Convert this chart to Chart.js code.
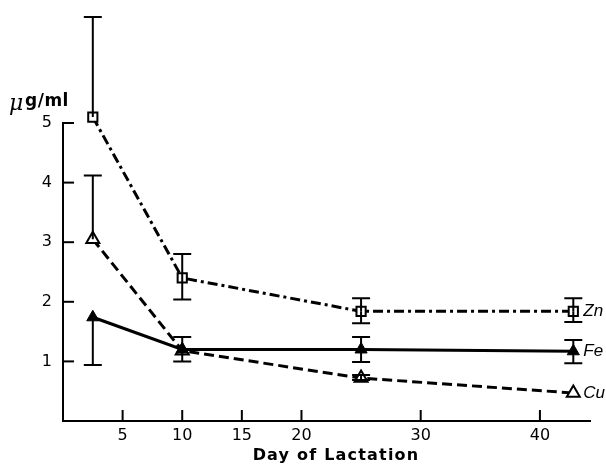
<!DOCTYPE html>
<html>
<head>
<meta charset="utf-8">
<script src="https://cdn.jsdelivr.net/npm/chart.js@4/dist/chart.umd.min.js"></script>
<style>
    html, body { margin: 0; padding: 0; background: #fff; }
    #wrap { width: 606px; height: 465px; }
</style>
</head>
<body>
<div id="wrap"><canvas id="chart" width="606" height="465"></canvas></div>
<script>
// Day of lactation for each sample
const days = [2.5, 10, 25, 42.8];

// Mean concentrations, µg/ml
const znValues = [5.1, 2.4, 1.84, 1.84];
const feValues = [1.74, 1.2, 1.2, 1.17];
const cuValues = [3.05, 1.18, 0.72, 0.47];

// Error bar extents above / below the mean
const znErrUp = [1.68, 0.4, 0.22, 0.22];
const znErrDown = [0, 0.36, 0.2, 0.18];
const feErrUp = [0, 0.21, 0.21, 0.19];
const feErrDown = [0.8, 0.2, 0.21, 0.2];
const cuErrUp = [1.07, 0, 0.05, 0];
const cuErrDown = [0, 0, 0.03, 0];

const xTicks = [5, 10, 15, 20, 30, 40];
const yTicks = [1, 2, 3, 4, 5];

const FONT = '"DejaVu Sans", "Liberation Sans", sans-serif';

function points(values) {
    return days.map(function (d, i) { return { x: d, y: values[i] }; });
}

// Error bars, inward tick marks, unit label, axis title and element labels
const decorPlugin = {
    id: 'decor',
    afterDatasetsDraw: function (chart) {
        const ctx = chart.ctx;
        const xs = chart.scales.x, ys = chart.scales.y;
        const area = chart.chartArea;
        ctx.save();
        ctx.strokeStyle = '#000';
        ctx.lineWidth = 2;

        // tick marks pointing into the plot
        xTicks.forEach(function (t) {
            const px = xs.getPixelForValue(t);
            ctx.beginPath();
            ctx.moveTo(px, area.bottom);
            ctx.lineTo(px, area.bottom - 11);
            ctx.stroke();
        });
        yTicks.forEach(function (t) {
            const py = ys.getPixelForValue(t);
            ctx.beginPath();
            ctx.moveTo(area.left, py);
            ctx.lineTo(area.left + 11, py);
            ctx.stroke();
        });

        // error bars
        chart.data.datasets.forEach(function (ds) {
            ds.data.forEach(function (p, i) {
                const px = xs.getPixelForValue(p.x);
                const cap = 9;
                [[ds.errUp[i], 1], [ds.errDown[i], -1]].forEach(function (e) {
                    if (!e[0]) return;
                    const y0 = ys.getPixelForValue(p.y);
                    const y1 = ys.getPixelForValue(p.y + e[0] * e[1]);
                    ctx.beginPath();
                    ctx.moveTo(px, y0);
                    ctx.lineTo(px, y1);
                    ctx.moveTo(px - cap, y1);
                    ctx.lineTo(px + cap, y1);
                    ctx.stroke();
                });
            });
        });

        // element labels at the end of each line
        ctx.fillStyle = '#000';
        ctx.font = 'italic 17px "Liberation Sans", sans-serif';
        ctx.textBaseline = 'middle';
        chart.data.datasets.forEach(function (ds) {
            const last = ds.data[ds.data.length - 1];
            ctx.fillText(ds.label, xs.getPixelForValue(last.x) + 10, ys.getPixelForValue(last.y));
        });

        // unit label
        ctx.textAlign = 'left';
        ctx.font = 'italic 22px "DejaVu Serif", serif';
        ctx.fillText('\u03bc', 9, 104);
        ctx.font = 'bold 17px ' + FONT;
        ctx.letterSpacing = '0.5px';
        ctx.fillText('g/ml', 25, 102);

        // x axis title
        ctx.textAlign = 'center';
        ctx.font = 'bold 16px ' + FONT;
        ctx.letterSpacing = '1.2px';
        ctx.fillText('Day of Lactation', 336, 456);
        ctx.restore();
    }
};

const ctx = document.getElementById('chart');
ctx.chart = new Chart(ctx, {
    type: 'scatter',
    data: {
        datasets: [{
            label: 'Zn',
            data: points(znValues),
            errUp: znErrUp,
            errDown: znErrDown,
            showLine: true,
            borderColor: '#000',
            borderWidth: 3,
            borderDash: [10, 4, 3, 4],
            pointStyle: 'rect',
            pointRadius: 6.5,
            pointBackgroundColor: '#fff',
            pointBorderColor: '#000',
            pointBorderWidth: 2,
            clip: false
        }, {
            label: 'Fe',
            data: points(feValues),
            errUp: feErrUp,
            errDown: feErrDown,
            showLine: true,
            borderColor: '#000',
            borderWidth: 3.2,
            pointStyle: 'triangle',
            pointRadius: 7,
            pointBackgroundColor: '#000',
            pointBorderColor: '#000',
            pointBorderWidth: 1,
            clip: false
        }, {
            label: 'Cu',
            data: points(cuValues),
            errUp: cuErrUp,
            errDown: cuErrDown,
            showLine: true,
            borderColor: '#000',
            borderWidth: 3,
            borderDash: [10, 5],
            pointStyle: 'triangle',
            pointRadius: 7.5,
            pointBackgroundColor: '#fff',
            pointBorderColor: '#000',
            pointBorderWidth: 2,
            clip: false
        }]
    },
    options: {
        responsive: false,
        animation: false,
        layout: { padding: { top: 123, right: 16, left: 0, bottom: 0 } },
        plugins: {
            legend: { display: false },
            tooltip: { enabled: false }
        },
        scales: {
            x: {
                type: 'linear',
                min: 0,
                max: 44.2,
                afterBuildTicks: function (scale) {
                    scale.ticks = xTicks.map(function (v) { return { value: v }; });
                },
                afterFit: function (scale) { scale.height = 44; },
                grid: { display: false, drawTicks: false },
                border: { display: true, color: '#000', width: 2 },
                ticks: {
                    color: '#000',
                    padding: 5,
                    font: { family: FONT, size: 16 }
                }
            },
            y: {
                min: 0,
                max: 5,
                afterBuildTicks: function (scale) {
                    scale.ticks = yTicks.map(function (v) { return { value: v }; });
                },
                afterFit: function (scale) { scale.width = 63; },
                grid: { display: false, drawTicks: false },
                border: { display: true, color: '#000', width: 2 },
                ticks: {
                    color: '#000',
                    padding: 11,
                    font: { family: FONT, size: 16 }
                }
            }
        }
    },
    plugins: [decorPlugin]
});
</script>
</body>
</html>
